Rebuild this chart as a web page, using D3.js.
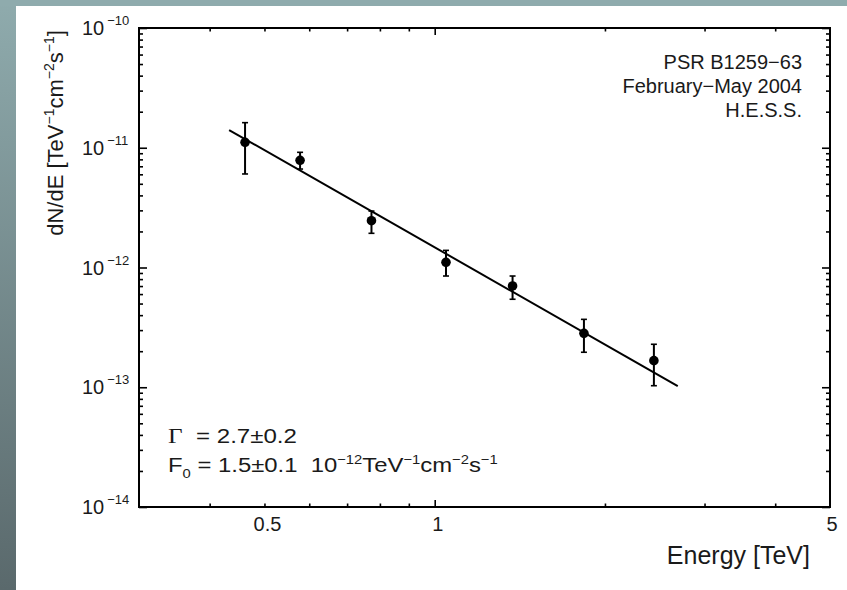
<!DOCTYPE html>
<html>
<head>
<meta charset="utf-8">
<script src="https://cdn.jsdelivr.net/npm/d3@7"></script>
<style>
  html, body { margin: 0; padding: 0; }
  body { width: 847px; height: 590px; overflow: hidden; }
  svg text { font-family: "Liberation Sans", Arial, Helvetica, sans-serif; fill: #1a1a1a; white-space: pre; }
</style>
</head>
<body>
<svg id="chart" width="847" height="590"></svg>
<script>
// ---------------- data ----------------
const energy  = [0.462, 0.578, 0.773, 1.047, 1.373, 1.836, 2.441];           // TeV
const flux    = [1.11e-11, 7.86e-12, 2.46e-12, 1.105e-12, 7.01e-13, 2.82e-13, 1.667e-13];
const fluxHi  = [1.62e-11, 9.16e-12, 2.96e-12, 1.39e-12, 8.49e-13, 3.69e-13, 2.285e-13];
const fluxLo  = [6.04e-12, 6.64e-12, 1.93e-12, 8.49e-13, 5.43e-13, 1.96e-13, 1.03e-13];
const fitEnergy = [0.433, 2.69];
const fitFlux   = [1.406e-11, 1.024e-13];
const xMinorTicks = [0.4, 0.5, 0.6, 0.7, 0.8, 0.9, 2, 3, 4];
const xMajorTicks = [1];
const xTickLabels = [0.5, 1, 5];
const yDecades = [-10, -11, -12, -13, -14];
const infoLines = ["PSR B1259\u221263", "February\u2212May 2004", "H.E.S.S."];

// ---------------- layout ----------------
const svg = d3.select("#chart");
const L = 139, R = 830, T = 28, B = 507;

// background frame (slide look)
const defs = svg.append("defs");
const grad = defs.append("linearGradient").attr("id", "lg").attr("x1", 0).attr("y1", 0).attr("x2", 0).attr("y2", 1);
grad.append("stop").attr("offset", "0%").attr("stop-color", "#8fabad");
grad.append("stop").attr("offset", "100%").attr("stop-color", "#5a696c");
svg.append("rect").attr("x", 0).attr("y", 0).attr("width", 847).attr("height", 590).attr("fill", "url(#lg)");
svg.append("rect").attr("x", 0).attr("y", 0).attr("width", 847).attr("height", 6).attr("fill", "#8fabad");
svg.append("rect").attr("x", 16).attr("y", 6).attr("width", 831).attr("height", 584).attr("fill", "#ffffff");

const x = d3.scaleLog().domain([0.3, 5]).range([L, R]);
const y = d3.scaleLog().domain([1e-14, 1e-10]).range([B, T]);

const yMinor = [];
for (let d = -14; d < -10; d++) for (let m = 2; m <= 9; m++) yMinor.push(m * Math.pow(10, d));
const yMajor = yDecades.map(d => Math.pow(10, d));

function styleAxis(g) {
  g.select(".domain").remove();
  g.selectAll(".tick line").attr("stroke", "#000").attr("stroke-width", 1.6);
  g.selectAll(".tick text").remove();
}

// bottom & top
svg.append("g").attr("transform", `translate(0,${B})`)
  .call(d3.axisBottom(x).tickValues(xMinorTicks).tickSize(-3.5).tickFormat("")).call(styleAxis);
svg.append("g").attr("transform", `translate(0,${B})`)
  .call(d3.axisBottom(x).tickValues(xMajorTicks).tickSize(-7).tickFormat("")).call(styleAxis);
svg.append("g").attr("transform", `translate(0,${T})`)
  .call(d3.axisTop(x).tickValues(xMinorTicks).tickSize(-3.5).tickFormat("")).call(styleAxis);
svg.append("g").attr("transform", `translate(0,${T})`)
  .call(d3.axisTop(x).tickValues(xMajorTicks).tickSize(-7).tickFormat("")).call(styleAxis);
// left & right
svg.append("g").attr("transform", `translate(${L},0)`)
  .call(d3.axisLeft(y).tickValues(yMinor).tickSize(-4).tickFormat("")).call(styleAxis);
svg.append("g").attr("transform", `translate(${L},0)`)
  .call(d3.axisLeft(y).tickValues(yMajor).tickSize(-8).tickFormat("")).call(styleAxis);
svg.append("g").attr("transform", `translate(${R},0)`)
  .call(d3.axisRight(y).tickValues(yMinor).tickSize(-4).tickFormat("")).call(styleAxis);
svg.append("g").attr("transform", `translate(${R},0)`)
  .call(d3.axisRight(y).tickValues(yMajor).tickSize(-8).tickFormat("")).call(styleAxis);

// frame
svg.append("rect").attr("x", L).attr("y", T).attr("width", R - L).attr("height", B - T)
  .attr("fill", "none").attr("stroke", "#000").attr("stroke-width", 2);

// x tick labels
svg.append("g").selectAll("text").data(xTickLabels).join("text")
  .attr("x", d => x(d) + (d === 5 ? 2 : 3)).attr("y", 531)
  .attr("text-anchor", "middle").attr("font-size", 20)
  .text(d => String(d));

// y tick labels 10^n
const yl = svg.append("g").selectAll("text").data(yDecades).join("text")
  .attr("x", 82).attr("y", d => y(Math.pow(10, d)) + 7).attr("font-size", 20);
yl.append("tspan").text("10");
yl.append("tspan").attr("dx", 3).attr("dy", -10).attr("font-size", 13).text(d => "\u2212" + Math.abs(d));

// axis titles
svg.append("text").attr("x", 810).attr("y", 564).attr("text-anchor", "end").attr("font-size", 25)
  .text("Energy [TeV]");
const yt = svg.append("text").attr("transform", "translate(63,133) rotate(-90)")
  .attr("text-anchor", "middle").attr("font-size", 22);
yt.append("tspan").text("dN/dE [TeV");
yt.append("tspan").attr("dy", -9).attr("font-size", 14).text("\u22121");
yt.append("tspan").attr("dy", 9).text("cm");
yt.append("tspan").attr("dy", -9).attr("font-size", 14).text("\u22122");
yt.append("tspan").attr("dy", 9).text("s");
yt.append("tspan").attr("dy", -9).attr("font-size", 14).text("\u22121");
yt.append("tspan").attr("dy", 9).text("]");

// info text top right
svg.append("g").selectAll("text").data(infoLines).join("text")
  .attr("x", 802).attr("y", (d, i) => 69 + i * 24).attr("text-anchor", "end").attr("font-size", 20)
  .text(d => d);

// fit annotation (stretched horizontally to the width seen in the picture)
function fitWidth(g, text, x0, y0, target) {
  const w = text.node().getBBox().width;
  g.attr("transform", `translate(${x0},${y0}) scale(${target / w},1)`);
}
const a1 = svg.append("g");
const g1 = a1.append("text").attr("x", 0).attr("y", 0).attr("font-size", 21);
g1.append("tspan").attr("font-family", "'Liberation Serif', 'Times New Roman', serif").attr("font-size", 22).text("\u0393");
g1.append("tspan").text("  = 2.7\u00b10.2");
fitWidth(a1, g1, 168, 443, 129);

const a2 = svg.append("g");
const g2 = a2.append("text").attr("x", 0).attr("y", 0).attr("font-size", 21);
g2.append("tspan").text("F");
g2.append("tspan").attr("dy", 6).attr("font-size", 13).text("0");
g2.append("tspan").attr("dy", -6).text(" = 1.5\u00b10.1  10");
g2.append("tspan").attr("dy", -8).attr("font-size", 13).text("\u221212");
g2.append("tspan").attr("dy", 8).text("TeV");
g2.append("tspan").attr("dy", -8).attr("font-size", 13).text("\u22121");
g2.append("tspan").attr("dy", 8).text("cm");
g2.append("tspan").attr("dy", -8).attr("font-size", 13).text("\u22122");
g2.append("tspan").attr("dy", 8).text("s");
g2.append("tspan").attr("dy", -8).attr("font-size", 13).text("\u22121");
fitWidth(a2, g2, 168, 472, 330);

// fit line
const fitPts = fitEnergy.map((e, i) => [e, fitFlux[i]]);
svg.append("path").datum(fitPts)
  .attr("d", d3.line().x(d => x(d[0])).y(d => y(d[1])))
  .attr("fill", "none").attr("stroke", "#000").attr("stroke-width", 2);

// data points with error bars
const pts = energy.map((e, i) => ({ e, f: flux[i], hi: fluxHi[i], lo: fluxLo[i] }));
const pg = svg.append("g").selectAll("g").data(pts).join("g");
pg.append("line").attr("x1", d => x(d.e)).attr("x2", d => x(d.e))
  .attr("y1", d => y(d.hi)).attr("y2", d => y(d.lo)).attr("stroke", "#000").attr("stroke-width", 2);
pg.append("line").attr("x1", d => x(d.e) - 3).attr("x2", d => x(d.e) + 3)
  .attr("y1", d => y(d.hi)).attr("y2", d => y(d.hi)).attr("stroke", "#000").attr("stroke-width", 1.6);
pg.append("line").attr("x1", d => x(d.e) - 3).attr("x2", d => x(d.e) + 3)
  .attr("y1", d => y(d.lo)).attr("y2", d => y(d.lo)).attr("stroke", "#000").attr("stroke-width", 1.6);
pg.append("circle").attr("cx", d => x(d.e)).attr("cy", d => y(d.f)).attr("r", 4.8).attr("fill", "#000");
</script>
</body>
</html>
